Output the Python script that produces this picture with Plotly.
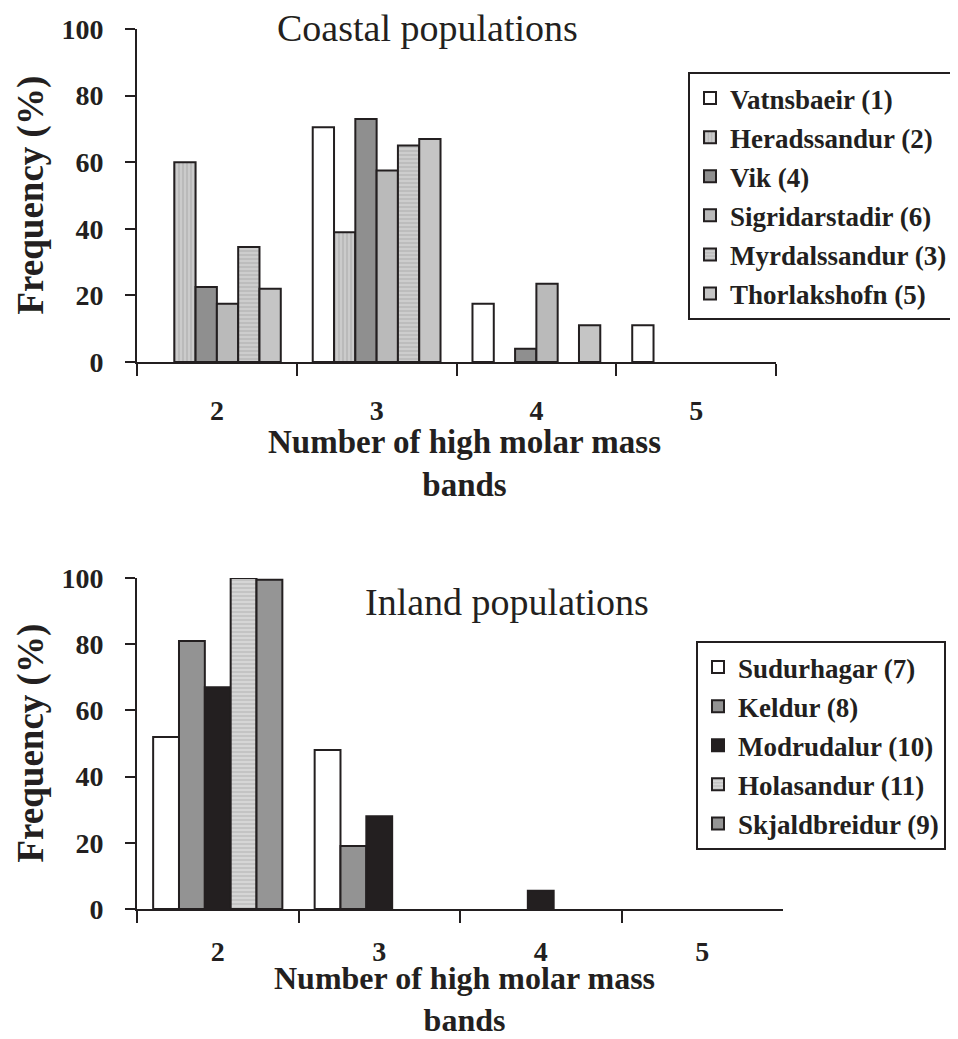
import plotly.graph_objects as go

# ---------------- data ----------------
categories = ["2", "3", "4", "5"]

coastal_names = ["Vatnsbaeir (1)", "Heradssandur (2)", "Vik (4)",
                 "Sigridarstadir (6)", "Myrdalssandur (3)", "Thorlakshofn (5)"]
vatnsbaeir = [0, 70.5, 17.5, 11]
heradssandur = [60, 39, 0, 0]
vik = [22.5, 73, 4, 0]
sigridarstadir = [17.5, 57.5, 23.5, 0]
myrdalssandur = [34.5, 65, 0, 0]
thorlakshofn = [22, 67, 11, 0]

inland_names = ["Sudurhagar (7)", "Keldur (8)", "Modrudalur (10)",
                "Holasandur (11)", "Skjaldbreidur (9)"]
sudurhagar = [52, 48, 0, 0]
keldur = [81, 19, 0, 0]
modrudalur = [67, 28, 5.5, 0]
holasandur = [100, 0, 0, 0]
skjaldbreidur = [99.5, 0, 0, 0]

y_ticks = [0, 20, 40, 60, 80, 100]

# ---------------- styles ----------------
W, H = 958, 1039
OX, OY = 7, 8          # page body offset of the plot div
INK = "#231f20"
SERIF = "Liberation Serif"

coastal_styles = [
    dict(color="#ffffff"),
    dict(color="#c6c6c6", pattern=dict(shape="|", fgcolor="#a9a9a9", bgcolor="#cbcbcb", size=4, solidity=0.25, fillmode="replace")),
    dict(color="#8f8f8f"),
    dict(color="#bababa"),
    dict(color="#c8c8c8", pattern=dict(shape="-", fgcolor="#adadad", bgcolor="#cdcdcd", size=4, solidity=0.25, fillmode="replace")),
    dict(color="#c5c5c5"),
]
inland_styles = [
    dict(color="#ffffff"),
    dict(color="#939393"),
    dict(color=INK),
    dict(color="#d2d2d2", pattern=dict(shape="-", fgcolor="#b3b3b3", bgcolor="#d6d6d6", size=4, solidity=0.25, fillmode="replace")),
    dict(color="#959595"),
]


def nz(vals):
    # zero-height bars are not drawn in the reference
    return [v if v else None for v in vals]


fig = go.Figure()

coastal_series = [vatnsbaeir, heradssandur, vik, sigridarstadir, myrdalssandur, thorlakshofn]
for i, (name, vals, st) in enumerate(zip(coastal_names, coastal_series, coastal_styles)):
    fig.add_trace(go.Bar(
        x=categories, y=nz(vals), name=name, xaxis="x", yaxis="y", legend="legend",
        legendgroup=f"c{i}",
        marker=dict(line=dict(color=INK, width=2), **st),
    ))

inland_series = [sudurhagar, keldur, modrudalur, holasandur, skjaldbreidur]
for i, (name, vals, st) in enumerate(zip(inland_names, inland_series, inland_styles)):
    fig.add_trace(go.Bar(
        x=categories, y=nz(vals), name=name, xaxis="x2", yaxis="y2", legend="legend2",
        legendgroup=f"i{i}",
        marker=dict(line=dict(color=INK, width=2), **st),
    ))


def px(x):
    return (x - OX) / W


def py(y):
    return 1 - (y - OY) / H


tickfont = dict(family=SERIF, size=28, color=INK, weight="bold")

xaxis_common = dict(
    type="category", categoryorder="array", categoryarray=categories,
    showline=True, linecolor=INK, linewidth=2,
    ticks="outside", tickson="boundaries", ticklen=12, tickwidth=2, tickcolor=INK,
    tickfont=tickfont, showgrid=False, zeroline=False,
    fixedrange=True,
)
yaxis_common = dict(
    range=[0, 100], tickvals=y_ticks, showline=True, linecolor=INK, linewidth=2,
    ticks="outside", ticklen=10, tickwidth=2, tickcolor=INK,
    tickfont=tickfont, ticklabelstandoff=16, showgrid=False, zeroline=False,
    fixedrange=True,
)

legend_common = dict(
    xanchor="left", yanchor="top", bgcolor="#ffffff",
    bordercolor=INK, borderwidth=2,
    font=dict(family=SERIF, size=27, color=INK, weight="bold"),
    traceorder="grouped", tracegroupgap=1, itemclick=False,
)

fig.update_layout(
    width=W, height=H,
    margin=dict(l=0, r=0, t=0, b=0, autoexpand=False),
    paper_bgcolor="#ffffff", plot_bgcolor="#ffffff",
    barmode="group", bargroupgap=0, bargap=0.2,
    showlegend=True,
    xaxis=dict(domain=[px(136), px(775)], anchor="y", ticklabelstandoff=22, **xaxis_common),
    yaxis=dict(domain=[py(362), py(29)], anchor="x", **yaxis_common),
    xaxis2=dict(domain=[px(136), px(782)], anchor="y2", ticklabelstandoff=16, **xaxis_common),
    yaxis2=dict(domain=[py(909), py(578)], anchor="x2", **yaxis_common),
    legend=dict(x=px(687), y=py(72), **legend_common),
    legend2=dict(x=px(695), y=py(641), **legend_common),
)

# titles and axis titles
title_font = dict(family=SERIF, size=38, color=INK)
fig.add_annotation(text="Coastal populations", x=px(426), y=py(28), xref="paper", yref="paper",
                   showarrow=False, font=title_font, xanchor="center", yanchor="middle")
fig.add_annotation(text="Inland populations", x=px(506), y=py(602), xref="paper", yref="paper",
                   showarrow=False, font=title_font, xanchor="center", yanchor="middle")

for yc in [(29 + 362) / 2, (578 + 909) / 2]:
    fig.add_annotation(text="Frequency (%)", x=px(29), y=py(yc), xref="paper", yref="paper",
                       showarrow=False, font=dict(family=SERIF, size=37, color=INK, weight="bold"),
                       textangle=-90, xanchor="center", yanchor="middle")
for yc, fs in [(463, 33), (999, 32)]:
    fig.add_annotation(text="Number of high molar mass<br>bands", x=px(463), y=py(yc),
                       xref="paper", yref="paper", showarrow=False,
                       font=dict(family=SERIF, size=fs, color=INK, weight="bold"),
                       xanchor="center", yanchor="middle")

fig.write_html("out.html")
